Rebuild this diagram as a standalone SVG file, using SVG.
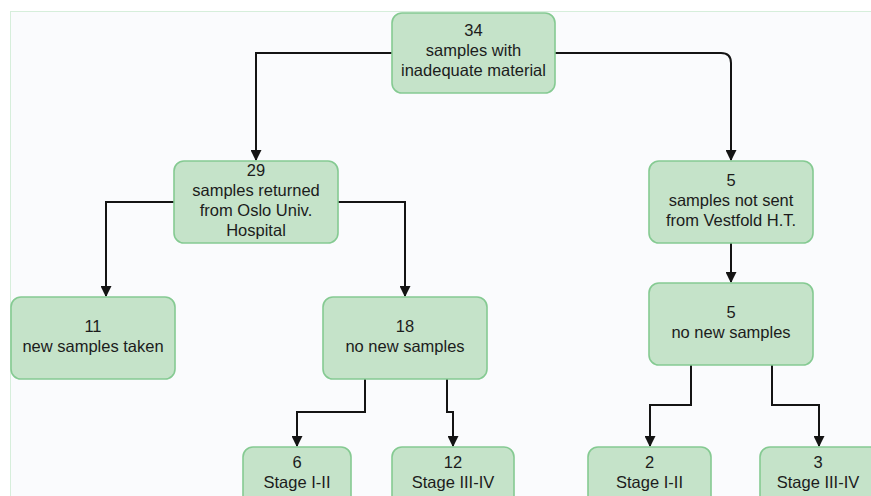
<svg xmlns="http://www.w3.org/2000/svg" width="871" height="496" viewBox="0 0 871 496">
<style>
.n rect{fill:#c5e3c9;stroke:#85ca92;stroke-width:1.6}
.n text{font-family:"Liberation Sans",Arial,sans-serif;font-size:16.5px;fill:#1c1c1c;text-anchor:middle}
.c path{fill:none;stroke:#141414;stroke-width:2}
</style>
<defs>
<marker id="ah" viewBox="0 0 10 10" refX="9" refY="5" markerWidth="5.5" markerHeight="5.5" orient="auto" markerUnits="strokeWidth">
<path d="M0,0 L10,5 L0,10 z" fill="#141414"/>
</marker>
</defs>
<rect x="0" y="0" width="871" height="496" fill="#ffffff"/>
<rect x="10.5" y="11.5" width="880" height="500" fill="#fafbfd" stroke="#d6eedb" stroke-width="1"/>
<g id="connectors" class="c">
<path d="M392,53 H256 V160" marker-end="url(#ah)"/>
<path d="M555,53 H721 Q731,53 731,63 V160" marker-end="url(#ah)"/>
<path d="M174,202 H106 V296" marker-end="url(#ah)"/>
<path d="M338,202 H405 V296" marker-end="url(#ah)"/>
<path d="M731,243 V282" marker-end="url(#ah)"/>
<path d="M365,379 V412 H297 V446" marker-end="url(#ah)"/>
<path d="M447,379 V412 H453 V446" marker-end="url(#ah)"/>
<path d="M691,365 V405 H650 V446" marker-end="url(#ah)"/>
<path d="M772,365 V405 H819 V446" marker-end="url(#ah)"/>
</g>
<g id="n34" class="n">
<rect x="392" y="13" width="163" height="80" rx="10"/>
<text x="473.5" y="36">34</text>
<text x="473.5" y="56">samples with</text>
<text x="473.5" y="76">inadequate material</text>
</g>
<g id="n29" class="n">
<rect x="174" y="161" width="164" height="82" rx="10"/>
<text x="256" y="176">29</text>
<text x="256" y="196">samples returned</text>
<text x="256" y="216">from Oslo Univ.</text>
<text x="256" y="236">Hospital</text>
</g>
<g id="n5a" class="n">
<rect x="649" y="161" width="164" height="82" rx="10"/>
<text x="731" y="186">5</text>
<text x="731" y="206">samples not sent</text>
<text x="731" y="226">from Vestfold H.T.</text>
</g>
<g id="n11" class="n">
<rect x="11" y="297" width="164" height="82" rx="10"/>
<text x="93" y="332">11</text>
<text x="93" y="352">new samples taken</text>
</g>
<g id="n18" class="n">
<rect x="323" y="297" width="164" height="82" rx="10"/>
<text x="405" y="332">18</text>
<text x="405" y="352">no new samples</text>
</g>
<g id="n5b" class="n">
<rect x="649" y="283" width="164" height="82" rx="10"/>
<text x="731" y="318">5</text>
<text x="731" y="338">no new samples</text>
</g>
<g id="n6" class="n">
<rect x="243" y="447" width="108" height="70" rx="10"/>
<text x="297" y="468">6</text>
<text x="297" y="488">Stage I-II</text>
</g>
<g id="n12" class="n">
<rect x="392" y="447" width="122" height="70" rx="10"/>
<text x="453" y="468">12</text>
<text x="453" y="488">Stage III-IV</text>
</g>
<g id="n2" class="n">
<rect x="588" y="447" width="123" height="70" rx="10"/>
<text x="649.5" y="468">2</text>
<text x="649.5" y="488">Stage I-II</text>
</g>
<g id="n3" class="n">
<rect x="760" y="447" width="120" height="70" rx="10"/>
<text x="818" y="468">3</text>
<text x="818" y="488">Stage III-IV</text>
</g>
</svg>
